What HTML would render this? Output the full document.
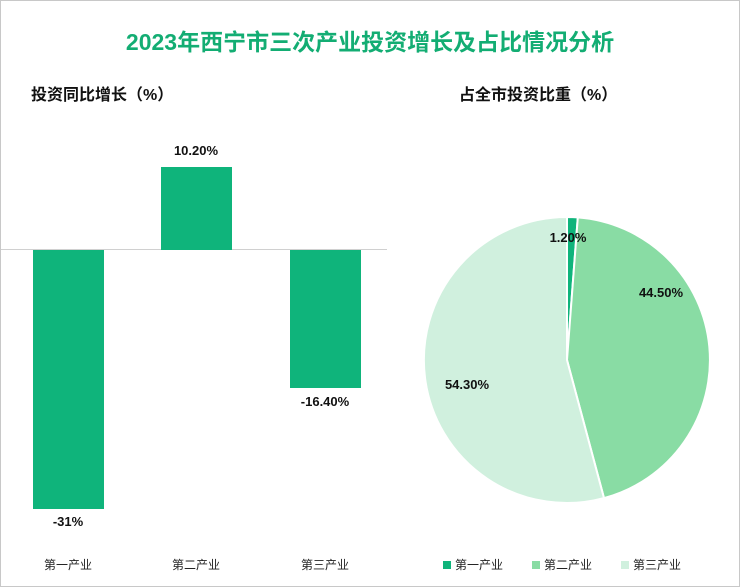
<!DOCTYPE html>
<html><head><meta charset="utf-8"><style>
body{margin:0;background:#fff;}
.w{position:relative;width:738px;height:585px;border:1px solid #c8c8c8;font-family:"Liberation Sans","Noto Sans CJK SC",sans-serif;overflow:hidden;}
.t{position:absolute;left:0;width:738px;top:22px;text-align:center;font-size:23px;font-weight:bold;color:#13ad73;}
.s{position:absolute;font-size:16px;font-weight:bold;color:#111;}
.l{position:absolute;font-size:13px;font-weight:bold;color:#111;text-align:center;width:80px;}
.c{position:absolute;font-size:12px;color:#222;text-align:center;width:90px;top:555px;}
.lg{position:absolute;top:555px;font-size:12px;color:#222;}
.lg i{display:inline-block;width:8px;height:8px;margin-right:4px;vertical-align:0px;}
</style></head><body><div class="w">
<div class="t">2023年西宁市三次产业投资增长及占比情况分析</div>
<div class="s" style="left:30px;top:80px">投资同比增长（%）</div>
<div class="s" style="left:458px;top:80px">占全市投资比重（%）</div>
<div style="position:absolute;left:0;top:248px;width:386px;height:1px;background:#d0d0d0"></div>
<div style="position:absolute;left:32px;top:249px;width:71px;height:259px;background:#0fb47b"></div>
<div style="position:absolute;left:160px;top:166px;width:71px;height:83px;background:#0fb47b"></div>
<div style="position:absolute;left:289px;top:249px;width:71px;height:138px;background:#0fb47b"></div>
<div class="l" style="left:155px;top:142px">10.20%</div>
<div class="l" style="left:27px;top:513px">-31%</div>
<div class="l" style="left:284px;top:393px">-16.40%</div>
<div class="c" style="left:22px">第一产业</div>
<div class="c" style="left:150px">第二产业</div>
<div class="c" style="left:279px">第三产业</div>
<svg style="position:absolute;left:0;top:0" width="738" height="585">
<g stroke="#fff" stroke-width="2">
<path d="M566,359 L566,216 A143,143 0 0 1 576.8,216.4 Z" fill="#0fb47b"/>
<path d="M566,359 L576.8,216.4 A143,143 0 0 1 603,497.1 Z" fill="#89dca4"/>
<path d="M566,359 L603,497.1 A143,143 0 1 1 566,216 Z" fill="#d0f0de"/>
</g></svg>
<div class="l" style="left:527px;top:229px">1.20%</div>
<div class="l" style="left:620px;top:284px">44.50%</div>
<div class="l" style="left:426px;top:376px">54.30%</div>
<div class="lg" style="left:442px"><i style="background:#0fb47b"></i>第一产业</div>
<div class="lg" style="left:531px"><i style="background:#89dca4"></i>第二产业</div>
<div class="lg" style="left:620px"><i style="background:#d0f0de"></i>第三产业</div>
</div></body></html>
